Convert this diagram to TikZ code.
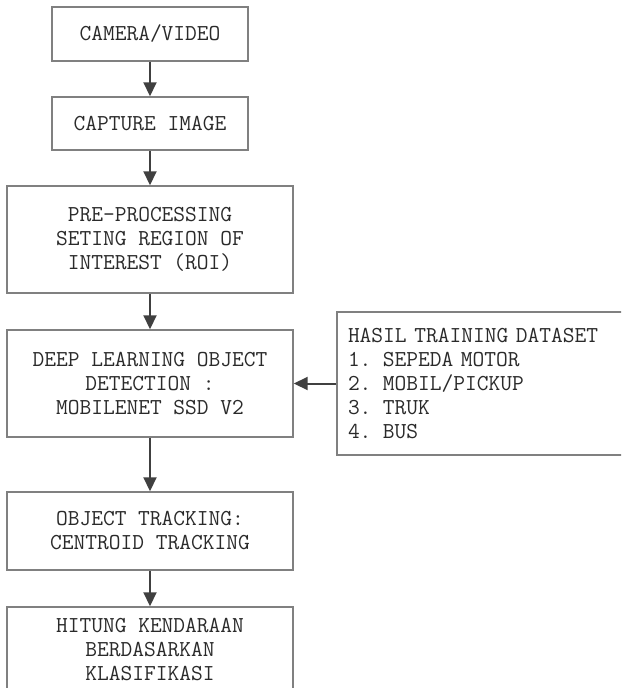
\documentclass[tikz,border=0pt]{standalone}
\usetikzlibrary{arrows.meta}
\definecolor{boxline}{HTML}{808080}
\definecolor{arrowcol}{HTML}{404040}
\definecolor{textcol}{HTML}{2A2A2A}
\tikzset{
  stepbox/.style={draw=boxline, line width=1.1pt, fill=white, align=center, inner sep=0pt,
    text=textcol, font=\ttfamily\fontsize{17.1pt}{18pt}\selectfont},
  arr/.style={draw=arrowcol, line width=1.5pt, -{Triangle[length=10.5pt,width=9.75pt]}}
}
\begin{document}
\begin{tikzpicture}[x=0.75pt,y=-0.75pt]
\clip (0,0) rectangle (621,688);
\fill[white] (0,0) rectangle (621,688);
\node[stepbox, minimum width=147pt, minimum height=40.5pt] (cam) at (150,34) {CAMERA/VIDEO};
\node[stepbox, minimum width=147pt, minimum height=39.75pt] (cap) at (150,123.5) {CAPTURE IMAGE};
\node[stepbox, minimum width=214.5pt, minimum height=80.25pt] (pre) at (150,239.5) {PRE-PROCESSING\\SETING REGION OF\\INTEREST (ROI)};
\node[stepbox, minimum width=214.5pt, minimum height=80.25pt] (deep) at (150,383.5) {DEEP LEARNING OBJECT\\DETECTION :\\MOBILENET SSD V2};
\node[stepbox, minimum width=214.5pt, minimum height=58.5pt] (track) at (150,531) {OBJECT TRACKING:\\CENTROID TRACKING};
\node[stepbox, minimum width=214.5pt, minimum height=64.5pt] (hitung) at (150,650) {HITUNG KENDARAAN\\BERDASARKAN\\KLASIFIKASI};
\node[stepbox, align=left, inner xsep=8.25pt, inner ysep=0pt, text width=210.75pt, minimum height=107.25pt] (hasil) at (488.5,383.5) {HASIL TRAINING DATASET\\1. SEPEDA MOTOR\\2. MOBIL/PICKUP\\3. TRUK\\4. BUS};
\draw[arr] (cam) -- (cap);
\draw[arr] (cap) -- (pre);
\draw[arr] (pre) -- (deep);
\draw[arr] (deep) -- (track);
\draw[arr] (track) -- (hitung);
\draw[arr] (hasil.west) -- (deep.east);
\end{tikzpicture}
\end{document}
